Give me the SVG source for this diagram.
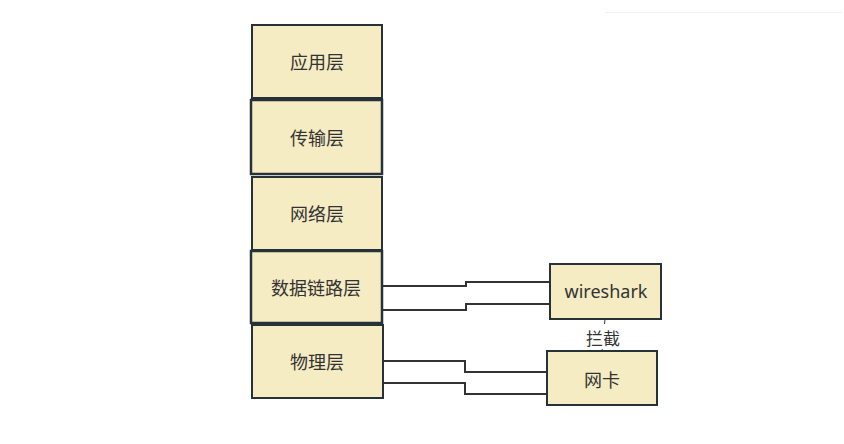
<svg xmlns="http://www.w3.org/2000/svg" width="844" height="444" viewBox="0 0 844 444">
<style>
.box{fill:#f5ecc3;stroke:#263238;stroke-width:2}
.thick{stroke-width:2.5}
.t{font-family:"Noto Sans CJK SC","Liberation Sans",sans-serif;font-size:18px;fill:#333;text-anchor:middle;dominant-baseline:central}
.c{fill:none;stroke:#333;stroke-width:2}
</style>
<rect width="844" height="444" fill="#fff"/>
<line x1="605" y1="12.5" x2="843" y2="12.5" stroke="#f2f2f2" stroke-width="1"/>
<g id="connectors">
<polyline class="c" points="383,286 466,286 466,282 550,282"/>
<polyline class="c" points="383,310 466,310 466,304 550,304"/>
<polyline class="c" points="383,361 465,361 465,372 547,372"/>
<polyline class="c" points="383,383 465,383 465,394 547,394"/>
<line x1="605" y1="319" x2="602" y2="351" stroke="#333" stroke-width="1"/>
<rect x="585" y="324" width="38" height="25" fill="#fff"/>
<text class="t" x="603" y="337" style="font-size:17px">拦截</text>
</g>
<g id="app"><rect class="box" x="252" y="25" width="130" height="73"/><text class="t" x="317" y="61">应用层</text></g>
<g id="transport"><rect class="box thick" x="251" y="100" width="131" height="74"/><text class="t" x="317" y="137">传输层</text></g>
<g id="network"><rect class="box" x="252" y="177" width="130" height="73"/><text class="t" x="317" y="213">网络层</text></g>
<g id="datalink"><rect class="box thick" x="251" y="251" width="131" height="72"/><text class="t" x="316" y="287">数据链路层</text></g>
<g id="physical"><rect class="box" x="252" y="325" width="131" height="73"/><text class="t" x="317" y="361">物理层</text></g>
<g id="wireshark"><rect class="box" x="550" y="264" width="111" height="55"/><text class="t" x="606" y="291" style="font-family:'Noto Sans','Liberation Sans',sans-serif;font-size:18px">wireshark</text></g>
<g id="nic"><rect class="box" x="547" y="351" width="110" height="54"/><text class="t" x="602" y="379">网卡</text></g>
</svg>
